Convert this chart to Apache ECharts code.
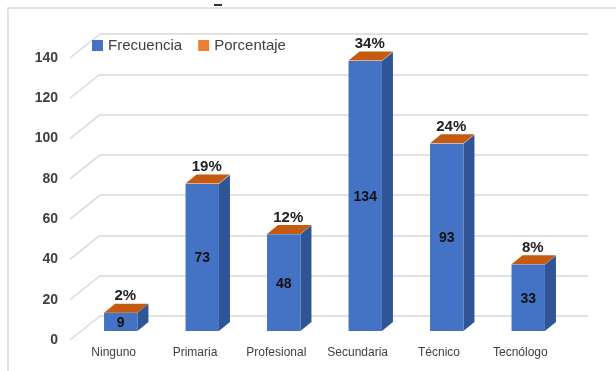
<!DOCTYPE html>
<html>
<head>
<meta charset="utf-8">
<script src="https://cdn.jsdelivr.net/npm/echarts/dist/echarts.min.js"></script>
<style>
  html, body { margin: 0; padding: 0; background: #ffffff; }
  #chart { width: 616px; height: 371px; }
</style>
</head>
<body>
<div id="chart"></div>
<script>
// Nivel educativo: frecuencia y porcentaje
const categories = ['Ninguno', 'Primaria', 'Profesional', 'Secundaria', 'Técnico', 'Tecnólogo'];
const frecuencia = [9, 73, 48, 134, 93, 33];
const porcentaje = [2, 19, 12, 34, 24, 8];
const yTicks = [0, 20, 40, 60, 80, 100, 120, 140];

const FRONT = '#4472C4';
const SIDE = '#2F5597';
const TOP = '#C55A11';
const LEG_ORANGE = '#ED7D31';
const GRID_GREY = '#d9d9d9';
const TEXT = '#404040';
const FONT = '"Liberation Sans", Arial, sans-serif';

// depth of each column (pixels) and of the back wall
const DX = 11, DY = 9;
const WALL_DX = 30, WALL_DY = 24;
const BAR_RATIO = 0.41;

const chart = echarts.init(document.getElementById('chart'), null, { renderer: 'canvas' });

// front face + right side of a column, with its value in the middle
function renderColumn(params, api) {
  const i = api.value(0), v = api.value(1);
  const base = api.coord([i, 0]);
  const top = api.coord([i, v]);
  const w = api.size([1, 0])[0] * BAR_RATIO;
  const x0 = base[0] - w / 2, x1 = base[0] + w / 2;
  return {
    type: 'group',
    children: [
      { type: 'polygon',
        shape: { points: [[x1, base[1]], [x1 + DX, base[1] - DY], [x1 + DX, top[1] - DY], [x1, top[1]]] },
        style: { fill: SIDE } },
      { type: 'rect',
        shape: { x: x0, y: top[1], width: w, height: base[1] - top[1] },
        style: { fill: FRONT } },
      { type: 'text', x: base[0], y: (base[1] + top[1]) / 2 + 1,
        style: { text: String(v), fill: '#111111', font: 'bold 14px ' + FONT,
                 align: 'center', verticalAlign: 'middle' } }
    ]
  };
}

// stacked percentage: a thin cap on top of each column, labelled above
function renderCap(params, api) {
  const i = api.value(0);
  const v = api.value(1) + api.value(2) / 100;
  const p = api.coord([i, v]);
  const w = api.size([1, 0])[0] * BAR_RATIO;
  const x0 = p[0] - w / 2, x1 = p[0] + w / 2;
  return {
    type: 'group',
    children: [
      { type: 'polygon',
        shape: { points: [[x0, p[1]], [x1, p[1]], [x1 + DX, p[1] - DY], [x0 + DX, p[1] - DY]] },
        style: { fill: TOP } },
      { type: 'text', x: p[0] + DX / 2 - 1, y: p[1] - DY,
        style: { text: api.value(2) + '%', fill: '#222222', font: 'bold 15px ' + FONT,
                 align: 'center', verticalAlign: 'bottom' } }
    ]
  };
}

// slanted floor/side lines joining the tick labels to the back-wall gridlines
function renderWallEdge(params, api) {
  const p = api.coord([0, api.value(1)]);
  return {
    type: 'line',
    shape: { x1: p[0] - WALL_DX, y1: p[1] + WALL_DY, x2: p[0], y2: p[1] },
    style: { stroke: GRID_GREY, lineWidth: 1.5 }
  };
}

const option = {
  animation: false,
  backgroundColor: '#ffffff',
  legend: {
    left: 92, top: 38, padding: 0,
    itemWidth: 11, itemHeight: 11, itemGap: 16,
    icon: 'rect',
    textStyle: { color: TEXT, fontSize: 15, fontFamily: FONT },
    data: [
      { name: 'Frecuencia', itemStyle: { color: FRONT } },
      { name: 'Porcentaje', itemStyle: { color: LEG_ORANGE } }
    ]
  },
  grid: [
    // front plane: tick labels and category names
    { left: 73, right: 55, top: 58, bottom: 31 },
    // back wall: gridlines
    { left: 100, right: 28, top: 34, bottom: 55 },
    // column plane
    { left: 80, right: 47, top: 49, bottom: 40 }
  ],
  xAxis: [
    { gridIndex: 0, type: 'category', data: categories,
      axisLine: { show: false }, axisTick: { show: false },
      axisLabel: { margin: 7, fontSize: 12, color: TEXT, fontFamily: FONT } },
    { gridIndex: 1, type: 'value', min: 0, max: 1, show: false },
    { gridIndex: 2, type: 'category', data: categories, show: false }
  ],
  yAxis: [
    { gridIndex: 0, type: 'value', min: 0, max: 140, interval: 20,
      axisLine: { show: false }, axisTick: { show: false }, splitLine: { show: false },
      axisLabel: { margin: 15, fontSize: 14, fontWeight: 'bold', color: TEXT, fontFamily: FONT } },
    { gridIndex: 1, type: 'value', min: 0, max: 140, interval: 20,
      axisLine: { show: false }, axisTick: { show: false }, axisLabel: { show: false },
      splitLine: { show: true, lineStyle: { color: GRID_GREY, width: 1.5 } } },
    { gridIndex: 2, type: 'value', min: 0, max: 140, interval: 20, show: false }
  ],
  series: [
    { type: 'custom', name: 'wall', silent: true, xAxisIndex: 1, yAxisIndex: 1,
      data: yTicks.map(v => [0, v]), encode: { x: 0, y: 1 },
      renderItem: renderWallEdge, z: 1 },
    { type: 'custom', name: 'Frecuencia', xAxisIndex: 2, yAxisIndex: 2,
      itemStyle: { color: FRONT },
      data: frecuencia.map((v, i) => [i, v]), encode: { x: 0, y: 1 },
      renderItem: renderColumn, z: 3 },
    { type: 'custom', name: 'Porcentaje', xAxisIndex: 2, yAxisIndex: 2,
      itemStyle: { color: LEG_ORANGE },
      data: frecuencia.map((v, i) => [i, v, porcentaje[i]]), encode: { x: 0, y: 1 },
      renderItem: renderCap, z: 4 }
  ],
  graphic: [
    { type: 'polyline', silent: true,
      shape: { points: [[8, 371], [8, 8], [616, 8]] },
      style: { stroke: GRID_GREY, lineWidth: 1.5, fill: null } },
    { type: 'rect', silent: true,
      shape: { x: 214, y: 4, width: 8, height: 2 },
      style: { fill: '#333333' } }
  ]
};

chart.setOption(option);
</script>
</body>
</html>
